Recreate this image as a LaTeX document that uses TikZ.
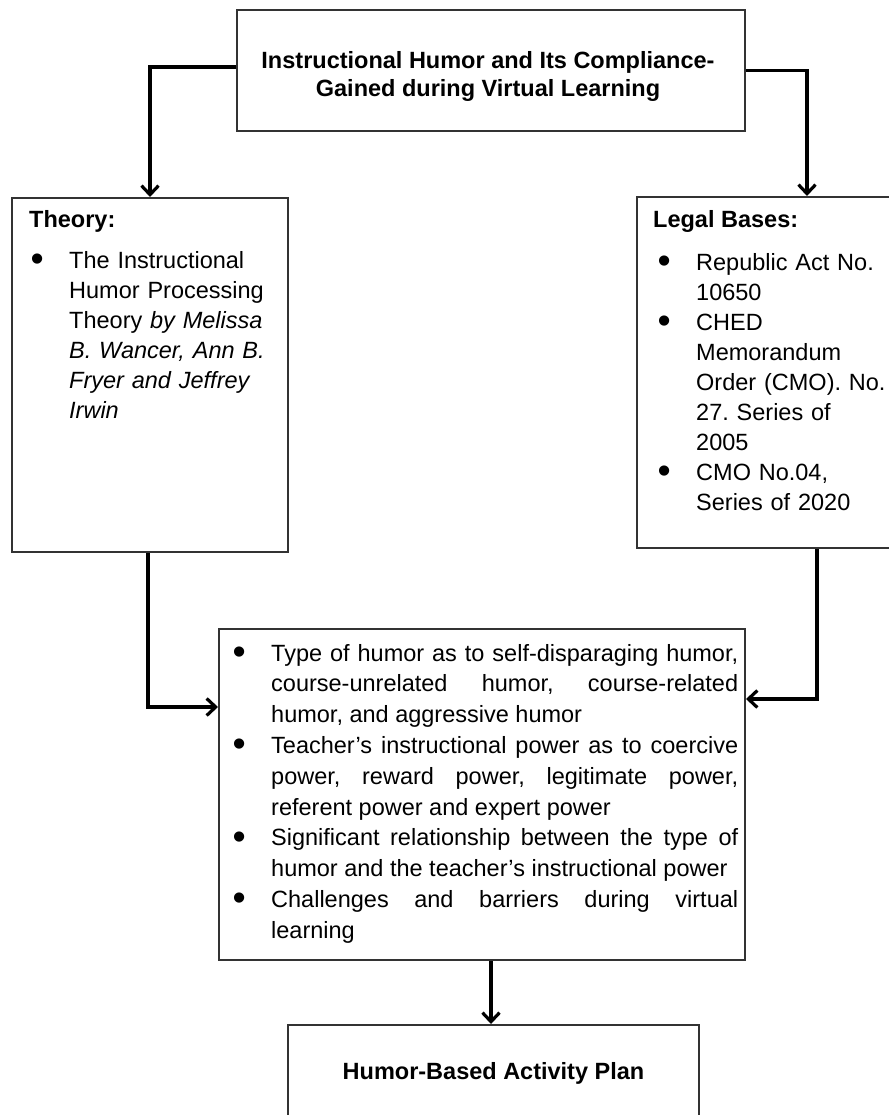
\documentclass[tikz,border=0pt]{standalone}
\usepackage{fontspec}
\setmainfont{Liberation Sans}
\usepackage{graphicx}
\usetikzlibrary{arrows.meta}
\newlength{\bind}\setlength{\bind}{39pt}
\newcommand{\bul}{\makebox[\bind][l]{\hspace{0.5pt}\raisebox{-3.5pt}{\scalebox{1.6}{\textbullet}}}}
\newcommand{\bitem}[1]{\hangindent=\bind\hangafter=1\noindent\bul #1\par}
\newcommand{\parset}{\frenchspacing\hyphenpenalty=10000 \exhyphenpenalty=10000 \tolerance=10000 \relax}
\tikzset{
  box/.style={draw=black!80, line width=2pt, fill=white, inner sep=0pt},
  conn/.style={draw=black, line width=3.4pt, -{Straight Barb[length=9pt,width=17pt,line width=3.2pt]}},
  ttl/.style={font=\bfseries\fontsize{23.5}{28}\selectfont},
  lst/.style={inner sep=0pt, anchor=base west, align=left,
    font=\fontsize{23.5}{30}\selectfont},
  jst/.style={inner sep=0pt, anchor=base west, align=justify,
    font=\fontsize{23.5}{30.8}\selectfont}
}
\begin{document}
\begin{tikzpicture}[x=1pt,y=-1pt]
\useasboundingbox (0,0) rectangle (888,1115);
% boxes
\node[box, minimum width=508pt, minimum height=121pt] (top) at (491,70.5) {};
\node[box, minimum width=276pt, minimum height=354pt] (left) at (150,375) {};
\node[box, minimum width=253pt, minimum height=351pt] (right) at (763.5,372.5) {};
\node[box, minimum width=526pt, minimum height=331pt] (mid) at (482,794.5) {};
\node[box, minimum width=411pt, minimum height=125pt] (bot) at (493.5,1087.5) {};
% texts
\node[ttl, align=center, inner sep=0pt] (toptext) at (488,76)
  {Instructional Humor and Its Compliance-\\Gained during Virtual Learning};
\node[ttl, anchor=base west, inner sep=0pt] (theoryhead) at (29,228) {Theory:};
\node[lst, text width=250pt] (theorylist) at (30,268)
  {\parset\bitem{The Instructional\newline Humor Processing\newline Theory \textit{by Melissa}\newline \textit{B. Wancer, Ann B.}\newline \textit{Fryer and Jeffrey}\newline \textit{Irwin}}};
\node[ttl, anchor=base west, inner sep=0pt] (legalhead) at (653,228) {Legal Bases:};
\node[lst, text width=232pt] (legallist) at (657,270)
  {\parset\bitem{Republic Act No.\newline 10650}%
   \bitem{CHED\newline Memorandum\newline Order (CMO). No.\newline 27. Series of\newline 2005}%
   \bitem{CMO No.04,\newline Series of 2020}};
\node[jst, text width=506pt] (midlist) at (232,661)
  {\parset\bitem{Type of humor as to self-disparaging humor,\linebreak course-unrelated humor, course-related\linebreak humor, and aggressive humor}%
   \bitem{Teacher’s instructional power as to coercive\linebreak power, reward power, legitimate power,\linebreak referent power and expert power}%
   \bitem{Significant relationship between the type of\linebreak humor and the teacher’s instructional power}%
   \bitem{Challenges and barriers during virtual\linebreak learning}};
\node[ttl, inner sep=0pt] (bottext) at (493.5,1073) {Humor-Based Activity Plan};
% connectors
\draw[conn] ([yshift=3.5pt]top.west) -| (left.north);
\draw[conn] (top.east) -| ([xshift=43.5pt]right.north);
\draw[conn] ([xshift=-2pt]left.south) |- ([yshift=87.5pt]mid.west);
\draw[conn] ([xshift=53.5pt]right.south) |- ([yshift=95.5pt]mid.east);
\draw[conn] ([xshift=9pt]mid.south) -- ([xshift=9pt]mid.south |- bot.north);
\end{tikzpicture}
\end{document}
